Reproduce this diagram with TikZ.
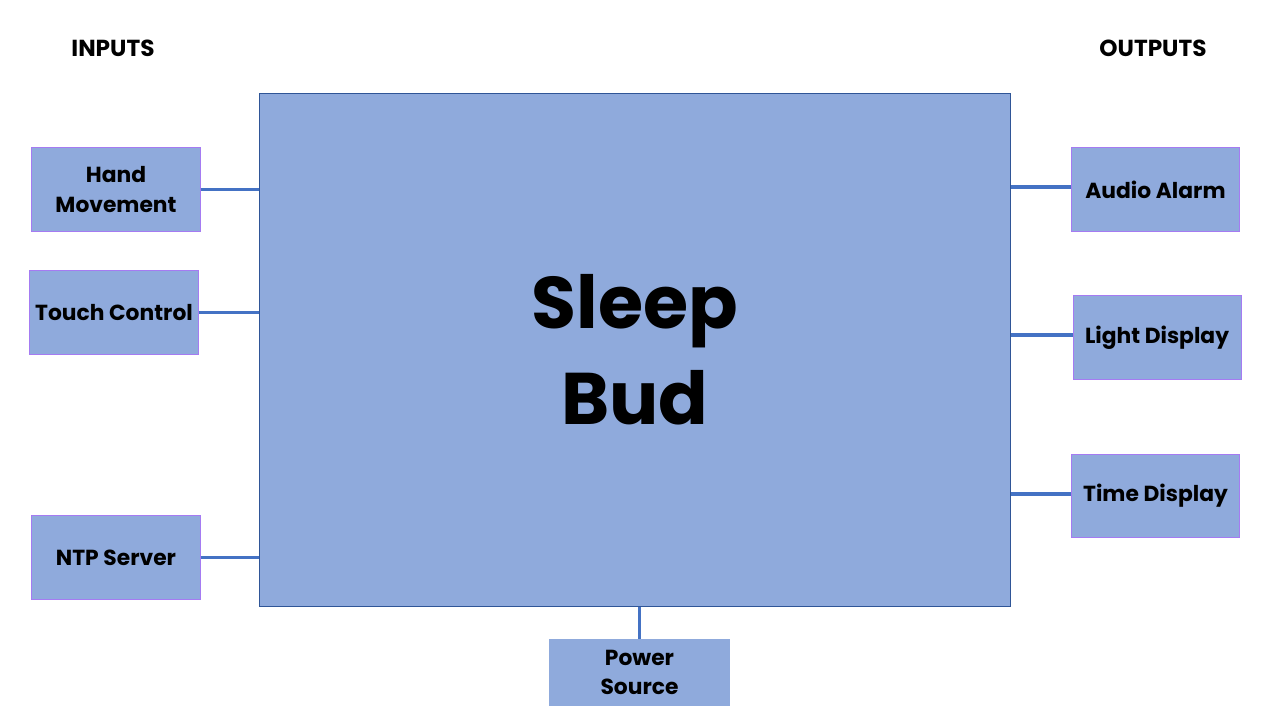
\documentclass[tikz,border=0pt]{standalone}
\usepackage{fontspec}
\setmainfont{Poppins}
\usepackage{xcolor}
\usetikzlibrary{positioning, calc}

\definecolor{boxfill}{HTML}{8FAADC}
\definecolor{boxline}{HTML}{A57BF2}
\definecolor{mainline}{HTML}{2F5597}
\definecolor{wire}{HTML}{4472C4}

\tikzset{
  block/.style={draw=boxline, line width=0.7pt, fill=boxfill, minimum width=4.2cm,
    minimum height=2.075cm, align=center, font=\fontsize{15.5}{21}\selectfont\bfseries},
  header/.style={font=\fontsize{16.5}{18}\selectfont\bfseries},
  wireline/.style={wire, line width=2.7pt}
}

\begin{document}
\begin{tikzpicture}[x=0.025cm,y=-0.025cm]
    \useasboundingbox[fill=white] (0,0) rectangle (1280,720);

    % Headers
    \node[header] (inhead) at (113,48) {INPUTS};
    \node[header] (outhead) at (1153,48) {OUTPUTS};

    % Main block
    \node[draw=mainline, line width=0.7pt, fill=boxfill, minimum width=18.75cm,
      minimum height=12.8cm, align=center, font=\fontsize{52}{68}\selectfont\bfseries]
      (sleepbud) at (635,350) {Sleep\\Bud};

    % Inputs
    \node[block] (hand) at (116,189.5) {Hand\\Movement};
    \node[block] (touch) at (114,312.5) {Touch Control};
    \node[block] (ntp) at (116,557.5) {NTP Server};

    % Outputs
    \node[block] (audio) at (1155.5,189.5) {Audio Alarm};
    \node[block] (light) at (1157,337.5) {Light Display};
    \node[block] (time) at (1155.5,496) {Time Display};

    % Power
    \node[block, draw=none, minimum width=4.525cm, minimum height=1.675cm]
      (power) at (639.5,672.5) {Power\\Source};

    % Wires
    \draw[wireline] (hand.east) -- (hand.east -| sleepbud.west);
    \draw[wireline] (touch.east) -- (touch.east -| sleepbud.west);
    \draw[wireline] (ntp.east) -- (ntp.east -| sleepbud.west);
    \draw[wireline] ([yshift=1.5pt]audio.west) -- ([yshift=1.5pt]audio.west -| sleepbud.east);
    \draw[wireline] ([yshift=1.5pt]light.west) -- ([yshift=1.5pt]light.west -| sleepbud.east);
    \draw[wireline] ([yshift=1.5pt]time.west) -- ([yshift=1.5pt]time.west -| sleepbud.east);
    \draw[wireline] (power.north) -- (power.north |- sleepbud.south);
\end{tikzpicture}
\end{document}
